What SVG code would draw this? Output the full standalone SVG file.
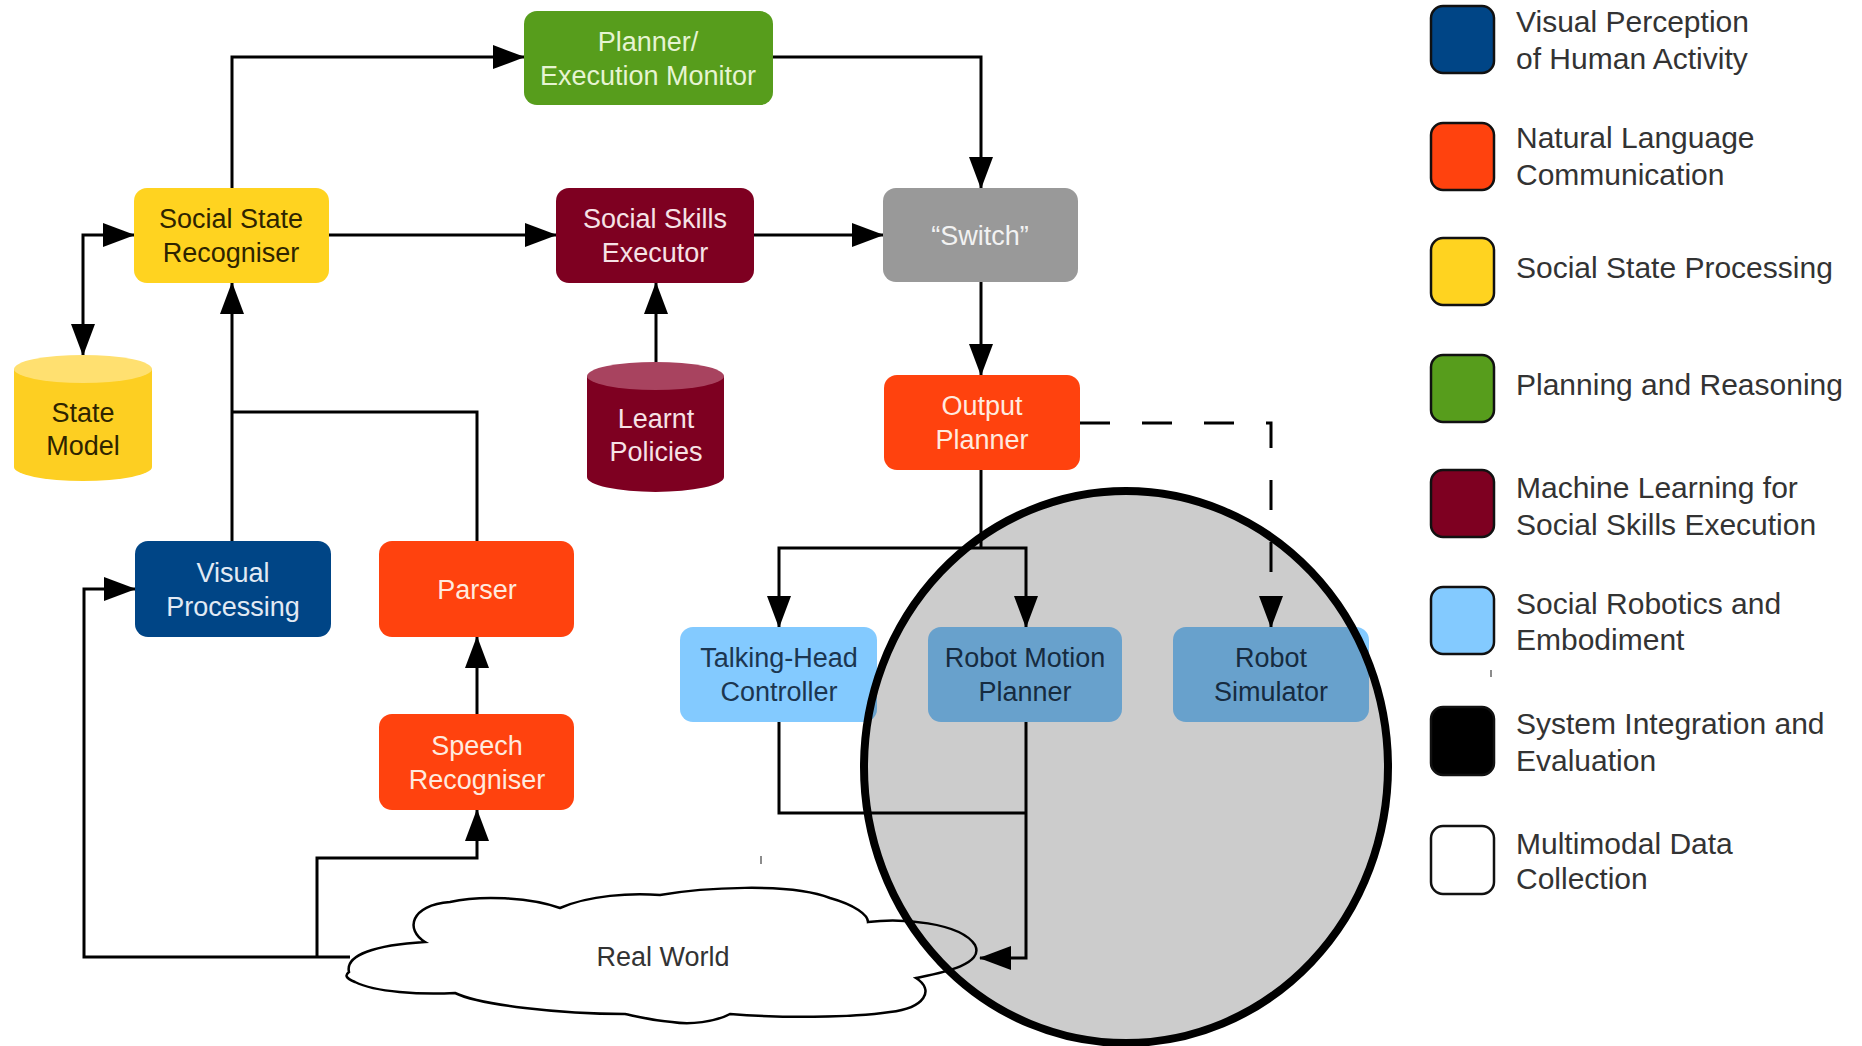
<svg xmlns="http://www.w3.org/2000/svg" width="1862" height="1046" viewBox="0 0 1862 1046">
<style>
.n{font-family:"Liberation Sans",Arial,sans-serif;font-size:27px;text-anchor:middle}
.lg{font-family:"Liberation Sans",Arial,sans-serif;font-size:30px;fill:#333}
.c{fill:none;stroke:#000;stroke-width:3}
.d{fill:none;stroke:#000;stroke-width:3;stroke-dasharray:30 32}
.sq{stroke:#111;stroke-width:2.5}
</style>
<defs>
<marker id="ah" markerUnits="userSpaceOnUse" markerWidth="32" markerHeight="24" viewBox="0 0 32 24" refX="31" refY="12" orient="auto-start-reverse">
<path d="M0,0 L32,12 L0,24 Z" fill="#000"/>
</marker>
</defs>
<rect width="1862" height="1046" fill="#fff"/>

<g id="real-world">
<path d="M349,972 C345,955 375,945 425,942 C405,930 410,905 450,902 C480,895 530,897 560,908 C590,895 630,893 660,895 C700,888 790,882 830,898 C855,905 868,915 868,922 C900,918 960,922 975,945 C985,965 940,973 916,978 C935,990 925,1008 890,1012 C850,1018 780,1018 730,1014 C715,1022 690,1025 672,1022 C650,1020 635,1016 625,1014 C560,1014 480,1005 455,993 C420,995 375,992 355,982 C345,978 345,975 349,972 Z" fill="#fff" stroke="#000" stroke-width="2.5"/>
<text class="n" x="663" y="966" fill="#333">Real World</text>
</g>

<g id="connectors">
<path class="c" d="M232,188 V57 H524" marker-end="url(#ah)"/>
<path class="c" d="M773,57 H981 V188" marker-end="url(#ah)"/>
<path class="c" d="M329,235 H556" marker-end="url(#ah)"/>
<path class="c" d="M754,235 H883" marker-end="url(#ah)"/>
<path class="c" d="M656,362 V283" marker-end="url(#ah)"/>
<path class="c" d="M83,355 V235 H134" marker-start="url(#ah)" marker-end="url(#ah)"/>
<path class="c" d="M232,541 V283" marker-end="url(#ah)"/>
<path class="c" d="M477,541 V412 H232"/>
<path class="c" d="M477,714 V637" marker-end="url(#ah)"/>
<path class="c" d="M350,957 H84 V589 H135" marker-end="url(#ah)"/>
<path class="c" d="M317,957 V858 H477 V810" marker-end="url(#ah)"/>
<path class="c" d="M981,282 V375" marker-end="url(#ah)"/>
<path class="c" d="M981,470 V548"/>
<path class="c" d="M981,548 H779 V627" marker-end="url(#ah)"/>
<path class="c" d="M981,548 H1026 V627" marker-end="url(#ah)"/>
<path class="d" d="M1080,423 H1271 V627" marker-end="url(#ah)"/>
<path class="c" d="M779,722 V813 H1026"/>
<path class="c" d="M1026,722 V958 H980" marker-end="url(#ah)"/>
<line x1="761" y1="856" x2="761" y2="864" stroke="#666" stroke-width="1.5"/>
</g>

<g id="planner">
<rect x="524" y="11" width="249" height="94" rx="13" fill="#579d1c"/>
<text class="n" fill="#e6f4d2"><tspan x="648" y="51">Planner/</tspan><tspan x="648" y="85">Execution Monitor</tspan></text>
</g>
<g id="social-state-recogniser">
<rect x="134" y="188" width="195" height="95" rx="13" fill="#ffd320"/>
<text class="n" fill="#2e2400"><tspan x="231" y="228">Social State</tspan><tspan x="231" y="262">Recogniser</tspan></text>
</g>
<g id="social-skills-executor">
<rect x="556" y="188" width="198" height="95" rx="13" fill="#7e0021"/>
<text class="n" fill="#f6e2e6"><tspan x="655" y="228">Social Skills</tspan><tspan x="655" y="262">Executor</tspan></text>
</g>
<g id="switch">
<rect x="883" y="188" width="195" height="94" rx="13" fill="#999"/>
<text class="n" fill="#f2f2f2" x="980" y="245">“Switch”</text>
</g>
<g id="output-planner">
<rect x="884" y="375" width="196" height="95" rx="13" fill="#ff420e"/>
<text class="n" fill="#ffeadf"><tspan x="982" y="415">Output</tspan><tspan x="982" y="449">Planner</tspan></text>
</g>
<g id="state-model">
<path d="M14,369 V467 A69,14 0 0 0 152,467 V369 Z" fill="#fdcf22"/>
<ellipse cx="83" cy="369" rx="69" ry="14" fill="#ffe070"/>
<text class="n" fill="#2e2400"><tspan x="83" y="422">State</tspan><tspan x="83" y="455">Model</tspan></text>
</g>
<g id="learnt-policies">
<path d="M587,376 V477 A68.5,15 0 0 0 724,477 V376 Z" fill="#7e0021"/>
<ellipse cx="655.5" cy="376" rx="68.5" ry="14" fill="#a8435f"/>
<text class="n" fill="#f6e2e6"><tspan x="656" y="428">Learnt</tspan><tspan x="656" y="461">Policies</tspan></text>
</g>
<g id="visual-processing">
<rect x="135" y="541" width="196" height="96" rx="13" fill="#004586"/>
<text class="n" fill="#e2eaf4"><tspan x="233" y="582">Visual</tspan><tspan x="233" y="616">Processing</tspan></text>
</g>
<g id="parser">
<rect x="379" y="541" width="195" height="96" rx="13" fill="#ff420e"/>
<text class="n" fill="#ffeadf" x="477" y="599">Parser</text>
</g>
<g id="speech-recogniser">
<rect x="379" y="714" width="195" height="96" rx="13" fill="#ff420e"/>
<text class="n" fill="#ffeadf"><tspan x="477" y="755">Speech</tspan><tspan x="477" y="789">Recogniser</tspan></text>
</g>
<g id="talking-head-controller">
<rect x="680" y="627" width="197" height="95" rx="13" fill="#83caff"/>
<text class="n" fill="#1c3650"><tspan x="779" y="667">Talking-Head</tspan><tspan x="779" y="701">Controller</tspan></text>
</g>
<g id="robot-motion-planner">
<rect x="928" y="627" width="194" height="95" rx="13" fill="#83caff"/>
<text class="n" fill="#1c3650"><tspan x="1025" y="667">Robot Motion</tspan><tspan x="1025" y="701">Planner</tspan></text>
</g>
<g id="robot-simulator">
<rect x="1173" y="627" width="196" height="95" rx="13" fill="#83caff"/>
<text class="n" fill="#1c3650"><tspan x="1271" y="667">Robot</tspan><tspan x="1271" y="701">Simulator</tspan></text>
</g>

<g id="highlight">
<ellipse cx="1126" cy="767" rx="262" ry="276" fill="#000" fill-opacity="0.2" stroke="#000" stroke-width="8"/>
</g>

<g id="legend">
<rect class="sq" x="1431" y="6" width="63" height="67" rx="12" fill="#004586"/>
<text class="lg"><tspan x="1516" y="32">Visual Perception</tspan><tspan x="1516" y="69">of Human Activity</tspan></text>
<rect class="sq" x="1431" y="123" width="63" height="67" rx="12" fill="#ff420e"/>
<text class="lg"><tspan x="1516" y="148">Natural Language</tspan><tspan x="1516" y="185">Communication</tspan></text>
<rect class="sq" x="1431" y="238" width="63" height="67" rx="12" fill="#ffd320"/>
<text class="lg" x="1516" y="278">Social State Processing</text>
<rect class="sq" x="1431" y="355" width="63" height="67" rx="12" fill="#579d1c"/>
<text class="lg" x="1516" y="395">Planning and Reasoning</text>
<rect class="sq" x="1431" y="470" width="63" height="67" rx="12" fill="#7e0021"/>
<text class="lg"><tspan x="1516" y="498">Machine Learning for</tspan><tspan x="1516" y="535">Social Skills Execution</tspan></text>
<rect class="sq" x="1431" y="587" width="63" height="67" rx="12" fill="#83caff"/>
<text class="lg"><tspan x="1516" y="614">Social Robotics and</tspan><tspan x="1516" y="650">Embodiment</tspan></text>
<line x1="1491" y1="670" x2="1491" y2="677" stroke="#666" stroke-width="1.5"/>
<rect class="sq" x="1431" y="707" width="63" height="68" rx="12" fill="#000"/>
<text class="lg"><tspan x="1516" y="734">System Integration and</tspan><tspan x="1516" y="771">Evaluation</tspan></text>
<rect class="sq" x="1431" y="826" width="63" height="68" rx="12" fill="#fff"/>
<text class="lg"><tspan x="1516" y="854">Multimodal Data</tspan><tspan x="1516" y="889">Collection</tspan></text>
</g>
</svg>
